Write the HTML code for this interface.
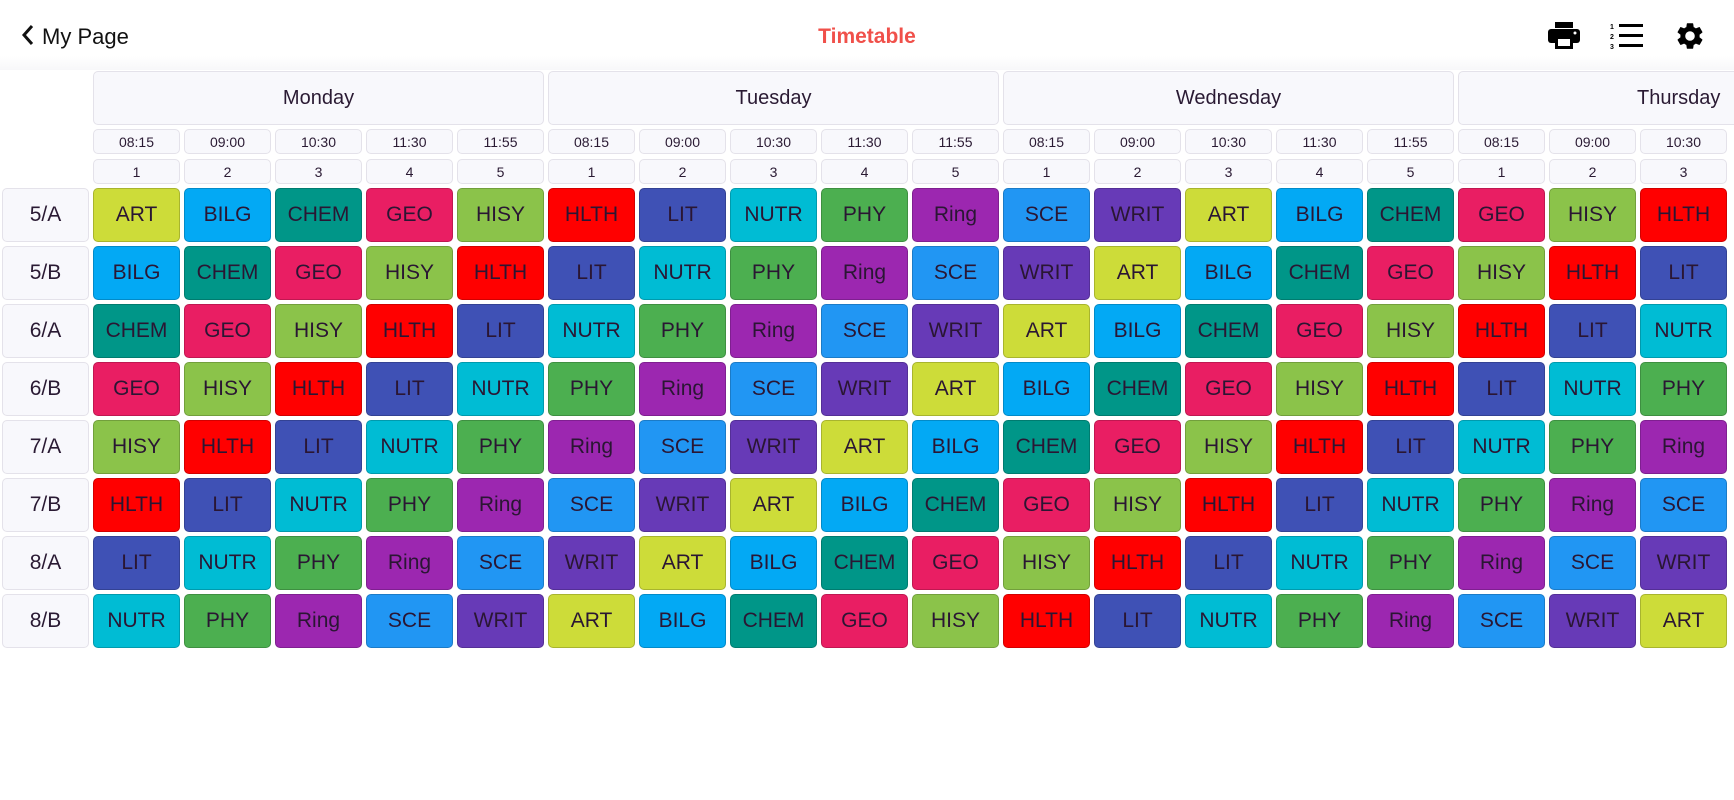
<!DOCTYPE html>
<html><head><meta charset="utf-8">
<style>
body{margin:0;width:1734px;height:800px;background:#fff;font-family:"Liberation Sans",sans-serif;color:#2a1a33;position:relative;overflow:hidden}
.top{position:absolute;left:0;top:0;width:1734px;height:70px;background:linear-gradient(#fff 80%,#f7f7f9)}
.c{position:absolute;box-sizing:border-box;border-radius:5px;display:flex;align-items:center;justify-content:center;white-space:nowrap}
.h{background:#f8f8fc;border:1.5px solid #e4e2ea}
.s{border:1px solid rgba(0,0,0,.18);font-size:21px;color:#2a1633}
</style></head><body>
<div class="top"></div>
<div style="position:absolute;left:20px;top:23px;font-size:22px;color:#111">
<svg width="16" height="24" viewBox="0 0 16 24" style="vertical-align:-3px;margin-right:6px"><path d="M12 3 L4 12 L12 21" fill="none" stroke="#111" stroke-width="3"/></svg>My Page</div>
<div style="position:absolute;left:767px;width:200px;top:25px;text-align:center;font-size:21px;font-weight:bold;color:#f0504a">Timetable</div>
<svg style="position:absolute;left:1547px;top:20px" width="34" height="30" viewBox="0 0 34 30"><rect x="8" y="2" width="18" height="6" fill="#000"/><rect x="1" y="9" width="32" height="14" rx="3" fill="#000"/><rect x="8" y="17" width="18" height="12" fill="#000"/><rect x="11" y="19" width="12" height="7" fill="#fff"/><circle cx="28" cy="13" r="1.5" fill="#fff"/></svg>
<svg style="position:absolute;left:1610px;top:22px" width="34" height="28" viewBox="0 0 34 28"><text x="0" y="7" font-size="7" font-family="Liberation Sans" font-weight="bold">1</text><text x="0" y="17" font-size="7" font-family="Liberation Sans" font-weight="bold">2</text><text x="0" y="27" font-size="7" font-family="Liberation Sans" font-weight="bold">3</text><rect x="9" y="2" width="24" height="3" fill="#000"/><rect x="9" y="12" width="24" height="3" fill="#000"/><rect x="9" y="22" width="24" height="3" fill="#000"/></svg>
<svg style="position:absolute;left:1674px;top:20px" width="32" height="32" viewBox="0 0 24 24"><path fill="#000" d="M19.14 12.94c.04-.3.06-.61.06-.94 0-.32-.02-.64-.07-.94l2.030-1.58a.49.49 0 0 0 .12-.61l-1.92-3.32a.49.49 0 0 0-.59-.22l-2.39.96c-.5-.38-1.03-.7-1.620-.94l-.36-2.54a.48.48 0 0 0-.48-.41h-3.84c-.24 0-.43.17-.47.41l-.36 2.54c-.59.24-1.13.57-1.62.94l-2.39-.96a.48.48 0 0 0-.59.22L2.74 8.87c-.12.21-.08.47.12.61l2.03 1.58c-.05.3-.09.63-.09.94s.02.64.07.94l-2.03 1.58a.49.49 0 0 0-.12.61l1.92 3.32c.12.22.37.29.59.22l2.39-.96c.5.38 1.03.7 1.62.94l.36 2.54c.05.24.24.41.48.41h3.84c.24 0 .44-.17.47-.41l.36-2.54c.59-.24 1.13-.56 1.62-.94l2.39.96c.22.08.47 0 .59-.22l1.92-3.32c.12-.22.07-.47-.12-.61l-2.01-1.58zM12 15.6A3.6 3.6 0 1 1 12 8.4a3.6 3.6 0 0 1 0 7.2z"/></svg>
<div id="g"></div>
<script>
var subs=["ART","BILG","CHEM","GEO","HISY","HLTH","LIT","NUTR","PHY","Ring","SCE","WRIT"];
var cols={ART:"#cddc39",BILG:"#03a9f4",CHEM:"#009688",GEO:"#e91e63",HISY:"#8bc34a",HLTH:"#ff0000",LIT:"#3f51b5",NUTR:"#00bcd4",PHY:"#4caf50",Ring:"#9c27b0",SCE:"#2196f3",WRIT:"#673ab7"};
var days=["Monday","Tuesday","Wednesday","Thursday"],times=["08:15","09:00","10:30","11:30","11:55"];
var rows=["5/A","5/B","6/A","6/B","7/A","7/B","8/A","8/B"];
var h="";
function box(x,y,w,hh,cls,st,t){h+='<div class="c '+cls+'" style="left:'+x+'px;top:'+y+'px;width:'+w+'px;height:'+hh+'px;'+st+'">'+t+'</div>';}
for(var d=0;d<4;d++){var x=93+d*455;box(x,71,451,54,"h","font-size:20px;"+(d==3?"justify-content:flex-start;padding-left:178px":""),days[d]);}
for(var c=0;c<18;c++){var x=93+c*91;box(x,129,87,25,"h","font-size:14px",times[c%5]);box(x,159,87,25,"h","font-size:14px",(c%5)+1);}
for(var r=0;r<8;r++){var y=188+r*58;box(2,y,87,54,"h","font-size:21px",rows[r]);
for(var c=0;c<18;c++){var s=subs[(r+c)%12];box(93+c*91,y,87,54,"s","background:"+cols[s],s);}}
document.getElementById("g").innerHTML=h;
</script>
</body></html>
